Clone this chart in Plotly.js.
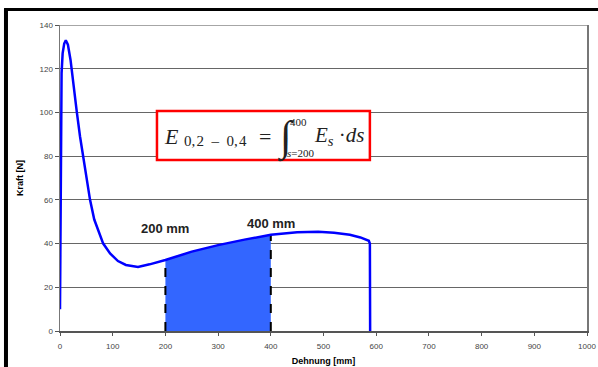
<!DOCTYPE html>
<html><head><meta charset="utf-8">
<script src="https://cdn.plot.ly/plotly-3.0.1.min.js"></script>
<style>html,body{margin:0;padding:0;background:#fff}#chart{width:598px;height:367px}</style>
</head><body><div id="chart"></div>
<script>
// Kraft-Dehnungs-Kurve
const dehnung = [0, 1, 2, 3, 5, 8, 11, 15, 20, 25, 32, 38, 44, 50, 57, 65, 75, 82, 95, 110, 125, 148, 170, 200, 250, 300, 350, 400, 450, 490, 520, 550, 570, 580, 586, 588, 588.5];
const kraft   = [10, 60, 95, 118, 127, 131.5, 133, 131, 124, 115, 100, 89, 80, 70, 60, 51, 44, 40, 35.5, 32, 30.2, 29.3, 30.5, 32.5, 36.3, 39.3, 41.8, 44, 45.2, 45.4, 45, 44, 42.8, 42, 41.3, 40, 0];
const bereichStart = 200;
const bereichEnde = 400;
const labels = ["200 mm", "400 mm"];
const xTicks = [0, 100, 200, 300, 400, 500, 600, 700, 800, 900, 1000];
const yTicks = [0, 20, 40, 60, 80, 100, 120, 140];

function interp(x) {
  for (let i = 0; i < dehnung.length - 1; i++) {
    if (x >= dehnung[i] && x <= dehnung[i + 1]) {
      const t = (x - dehnung[i]) / (dehnung[i + 1] - dehnung[i] || 1);
      return kraft[i] + t * (kraft[i + 1] - kraft[i]);
    }
  }
  return 0;
}
const fx = [bereichStart], fy = [interp(bereichStart)];
dehnung.forEach((d, i) => { if (d > bereichStart && d < bereichEnde) { fx.push(d); fy.push(kraft[i]); } });
fx.push(bereichEnde); fy.push(interp(bereichEnde));

const traces = [
  { x: fx, y: fy, type: 'scatter', mode: 'lines', fill: 'tozeroy', fillcolor: '#3366ff', line: { width: 0, color: '#3366ff' }, hoverinfo: 'skip' },
  { x: [bereichStart, bereichStart], y: [0, interp(bereichStart)], type: 'scatter', mode: 'lines', line: { color: '#000', width: 2, dash: 'dash' } },
  { x: [bereichEnde, bereichEnde], y: [0, interp(bereichEnde)], type: 'scatter', mode: 'lines', line: { color: '#000', width: 2, dash: 'dash' } },
  { x: dehnung, y: kraft, type: 'scatter', mode: 'lines', line: { color: '#0000ff', width: 2.5 } }
];

const serif = 'Liberation Serif, Times New Roman, serif';
const ink = '#222';
function fa(x, y, text, size) {
  return { x: x, y: y, xref: 'x', yref: 'y', xanchor: 'left', showarrow: false, text: text, font: { family: serif, size: size, color: ink } };
}
const layout = {
  width: 598, height: 367,
  margin: { l: 60, r: 11, t: 25, b: 36 },
  paper_bgcolor: '#fff', plot_bgcolor: '#fff',
  showlegend: false,
  font: { family: 'Liberation Sans, Arial, sans-serif', color: '#333' },
  xaxis: {
    range: [0, 1000], tickvals: xTicks, ticktext: xTicks.map(String),
    showgrid: false, zeroline: false, showline: true, linecolor: '#555', linewidth: 1.5,
    ticks: 'outside', ticklen: 3, tickcolor: '#555', tickfont: { size: 8, color: '#444' },
    ticklabelstandoff: 4,
    title: { text: '<b>Dehnung [mm]</b>', font: { size: 9, color: '#000' }, standoff: 7 }
  },
  yaxis: {
    range: [0, 140], tickvals: yTicks, ticktext: yTicks.map(String),
    showgrid: true, gridcolor: '#666', gridwidth: 1.2, zeroline: false,
    showline: true, linecolor: '#777', linewidth: 1.5, mirror: true,
    ticks: 'outside', ticklen: 4, tickcolor: '#555', tickfont: { size: 8, color: '#444' },
    title: { text: '<b>Kraft [N]</b>', font: { size: 9, color: '#000' }, standoff: 14 }
  },
  shapes: [
    { type: 'line', xref: 'x', yref: 'y', x0: 0, x1: 1000, y0: 140, y1: 140, line: { color: '#888', width: 1.5 } },
    { type: 'line', xref: 'paper', yref: 'paper', x0: -0.1025, x1: -0.1025, y0: 1.055, y1: -0.12, line: { color: '#000', width: 4 } },
    { type: 'line', xref: 'paper', yref: 'paper', x0: -0.106, x1: 1.03, y0: 1.0505, y1: 1.0505, line: { color: '#000', width: 3 } },
    { type: 'rect', xref: 'x', yref: 'y', x0: 184, x1: 588, y0: 78.2, y1: 100.6, layer: 'above', fillcolor: '#fff', line: { color: '#ff0000', width: 2.5 } }
  ],
  annotations: [
    { x: bereichStart, y: 47, xref: 'x', yref: 'y', text: '<b>' + labels[0] + '</b>', showarrow: false, font: { size: 13, color: '#222' } },
    { x: bereichEnde, y: 49, xref: 'x', yref: 'y', text: '<b>' + labels[1] + '</b>', showarrow: false, font: { size: 13, color: '#222' } },
    fa(194, 89.2, '<i>E</i>', 22),
    fa(232, 86.8, '0,\u200A2\u2002–\u20020,\u200A4', 15),
    fa(373, 89.2, '=', 22),
    fa(408, 88.5, '∫', 42),
    fa(433, 95.6, '400', 11),
    fa(426, 81.3, '<i>s</i>=200', 11),
    fa(478, 89.2, '<i>E<sub>s</sub></i> ·<i>ds</i>', 21)
  ]
};
Plotly.newPlot('chart', traces, layout, { staticPlot: true, displayModeBar: false });
</script></body></html>
